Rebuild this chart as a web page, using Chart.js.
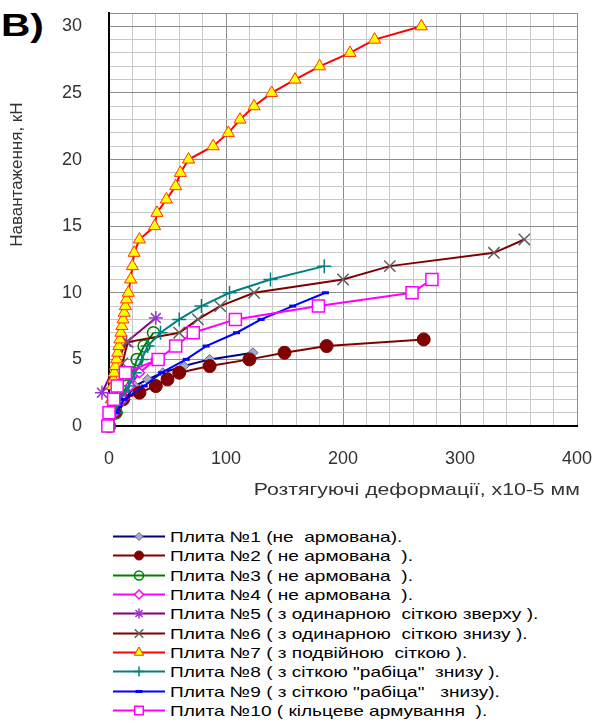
<!DOCTYPE html>
<html lang="uk">
<head>
<meta charset="utf-8">
<title>Навантаження – розтягуючі деформації</title>
<script src="https://cdn.jsdelivr.net/npm/chart.js@4.4.1/dist/chart.umd.min.js"></script>
<style>
  html, body { margin: 0; padding: 0; background: #fff; }
  body { width: 593px; height: 724px; position: relative; overflow: hidden; font-family: 'Liberation Sans', Arial, sans-serif; }
  #chart { position: absolute; left: 0; top: 0; }
  #panel-label { position: absolute; left: 1px; top: 9px; font-size: 32px; font-weight: bold; line-height: 32px;
    transform: scaleX(1.27); transform-origin: left top; }
  #x-title { position: absolute; right: 13px; top: 480px; font-size: 17px; line-height: 20px; color: #333; white-space: pre;
    transform: scaleX(1.25); transform-origin: right top; }
  #legend { position: absolute; left: 111px; top: 527px; }
  .legend-row { height: 19.3px; display: flex; align-items: center; }
  .legend-row canvas { width: 56px; height: 19px; margin-right: 3px; flex: none; }
  .legend-row span { display: inline-block; font-size: 15px; white-space: pre; color: #000;
    transform: scaleX(1.27); transform-origin: left center; }
</style>
</head>
<body>
<div id="panel-label">В)</div>
<canvas id="chart" width="593" height="510"></canvas>
<div id="x-title"></div>
<div id="legend"></div>
<script>
// legend texts
const plateLabels = [
  'Плита №1 (не  армована).',
  'Плита №2 ( не армована  ).',
  'Плита №3 ( не армована  ).',
  'Плита №4 ( не армована  ).',
  'Плита №5 ( з одинарною  сіткою зверху ).',
  'Плита №6 ( з одинарною  сіткою знизу ).',
  'Плита №7 ( з подвійною  сіткою ).',
  'Плита №8 ( з сіткою "рабіца"  знизу ).',
  'Плита №9 ( з сіткою "рабіца"   знизу).',
  'Плита №10 ( кільцеве армування  ).'
];

// strain (x10-5 mm) and load (kN)
const plate1X = [0, 8, 14, 22, 33, 46, 64, 86, 123];
const plate1Y = [0, 1, 2, 3, 3.5, 4, 4.5, 5, 5.5];

const plate2X = [0, 5, 12, 26, 40, 50, 60, 86, 120, 150, 186, 269];
const plate2Y = [0, 1, 2, 2.5, 3, 3.5, 4, 4.5, 5, 5.5, 6, 6.5];

const plate3X = [0, 6, 10, 15, 20, 24, 30, 38];
const plate3Y = [0, 1, 2, 3, 4, 5, 6, 7];

const plate4X = [0, 5, 12, 18, 26, 40];
const plate4Y = [0, 1, 2, 3, 4, 5];

const plate5X = [-6, 15, 40];
const plate5Y = [2.5, 6.3, 8.1];

const plate6X = [0, 8, 11.5, 16, 60, 76, 95, 124, 200, 240, 329, 355];
const plate6Y = [0, 3, 4.7, 6.3, 7, 8, 9, 10, 11, 12, 13, 14];

const plate7X = [0, 2, 3, 3.8, 4.5, 5.5, 6.5, 7.5, 8.5, 9.3, 10.2, 11, 12, 13, 14, 15, 16.5,
  18.5, 20, 21.5, 26, 39, 41, 49, 57, 61, 68, 89, 102, 112, 124, 139, 159, 180, 206, 227, 267];
const plate7Y = [0, 2, 3, 3.5, 4, 4.5, 5, 5.5, 6, 6.5, 7, 7.5, 8, 8.5, 9, 9.5, 10,
  11, 12, 13, 14, 15, 16, 17, 18, 19, 20, 21, 22, 23, 24, 25, 26, 27, 28, 29, 30];

const plate8X = [0, 5, 10, 17, 22, 28, 33, 44, 60, 79, 103, 138, 184];
const plate8Y = [0, 1, 2, 3, 4, 5, 6, 7, 8, 9, 10, 11, 12];

const plate9X = [0, 6, 13, 30, 45, 66, 83, 109, 130, 157, 185];
const plate9Y = [0, 1, 2, 3, 4, 5, 6, 7, 8, 9, 10];

const plate10X = [-1, 0, 4, 7, 14, 42, 57, 72, 108, 179, 259, 276];
const plate10Y = [0, 1, 2, 3, 4, 5, 6, 7, 8, 9, 10, 11];

const xTitle = 'Розтягуючі деформації, х10-5 мм';
const yTitle = 'Навантаження, кН';

function toPoints(xs, ys) {
  return xs.map((x, i) => ({ x: x, y: ys[i] }));
}

// line colour, marker style, marker fill, marker border, marker size, marker border width
const styles = [
  { line: '#000080', style: 'rectRot',  fill: '#a8a8c8', edge: '#6060a0', r: 5,   bw: 1 },
  { line: '#800000', style: 'circle',   fill: '#800000', edge: '#800000', r: 6.5, bw: 1 },
  { line: '#008000', style: 'circle',   fill: 'rgba(0,0,0,0)', edge: '#008000', r: 6, bw: 1.5 },
  { line: '#ff00ff', style: 'rectRot',  fill: '#ffffff', edge: '#ff00ff', r: 5,   bw: 1.5 },
  { line: '#800080', style: 'star',     fill: '#9933cc', edge: '#9933cc', r: 7,   bw: 1.5 },
  { line: '#800000', style: 'crossRot', fill: '#606060', edge: '#606060', r: 8,   bw: 1.5 },
  { line: '#ff0000', style: 'triangle', fill: '#ffff00', edge: '#ff3300', r: 7,   bw: 1 },
  { line: '#008080', style: 'cross',    fill: '#008080', edge: '#008080', r: 7,   bw: 1.5 },
  { line: '#0000ff', style: 'line',     fill: '#0000ff', edge: '#0000ff', r: 3.5, bw: 3 },
  { line: '#ff00ff', style: 'rect',     fill: '#ffffff', edge: '#ff00ff', r: 8.5, bw: 1.5 }
];

const seriesData = [
  toPoints(plate1X, plate1Y), toPoints(plate2X, plate2Y), toPoints(plate3X, plate3Y),
  toPoints(plate4X, plate4Y), toPoints(plate5X, plate5Y), toPoints(plate6X, plate6Y),
  toPoints(plate7X, plate7Y), toPoints(plate8X, plate8Y), toPoints(plate9X, plate9Y),
  toPoints(plate10X, plate10Y)
];

const datasets = seriesData.map((pts, i) => {
  const s = styles[i];
  return {
    label: plateLabels[i],
    data: pts,
    showLine: true,
    borderColor: s.line,
    borderWidth: 2,
    pointStyle: s.style,
    pointRadius: s.r,
    pointBackgroundColor: s.fill,
    pointBorderColor: s.edge,
    pointBorderWidth: s.bw,
    clip: false,
    order: plateLabels.length - i   // later plates drawn on top, like the original
  };
});

const fontFamily = "'Liberation Sans', Arial, sans-serif";

// chart.js adds tick padding to the label overflow; the plot here runs right to the edges
function noOverflow(s) {
  s.paddingTop = 0;
  s.paddingBottom = 0;
  s.paddingLeft = 0;
  s.paddingRight = 0;
}

new Chart(document.getElementById('chart'), {
  type: 'scatter',
  data: { datasets },
  options: {
    responsive: false,
    animation: false,
    layout: { padding: { top: 13, right: 16, left: 0, bottom: 0 } },
    plugins: { legend: { display: false }, tooltip: { enabled: false } },
    scales: {
      x: {
        type: 'linear',
        min: 0,
        max: 400,
        afterFit: s => { s.height = 84; noOverflow(s); },
        ticks: {
          stepSize: 20,
          autoSkip: false,
          maxRotation: 0,
          padding: 22,
          color: '#333',
          font: { family: fontFamily, size: 18 },
          callback: v => (v % 100 === 0 ? v : '')
        },
        grid: {
          drawTicks: false,
          color: ctx => (ctx.tick && ctx.tick.value % 100 === 0 ? '#8c8c8c' : '#c8c8c8'),
          lineWidth: 1
        },
        border: { color: '#000', width: 2 }
      },
      y: {
        min: 0,
        max: 31,
        afterFit: s => { s.width = 109; noOverflow(s); },
        ticks: {
          stepSize: 1,
          autoSkip: false,
          padding: 27,
          color: '#333',
          font: { family: fontFamily, size: 18 },
          callback: v => (v % 5 === 0 ? v : '')
        },
        grid: {
          drawTicks: false,
          color: ctx => (ctx.tick && (ctx.tick.value % 5 === 0 || ctx.tick.value === 31) ? '#8c8c8c' : '#c8c8c8'),
          lineWidth: 1
        },
        border: { color: '#000', width: 2 },
        title: {
          display: true,
          // leading spaces push the title up, as in the original
          text: ' '.repeat(19) + yTitle,
          color: '#333',
          font: { family: fontFamily, size: 17 },
          padding: { top: 7, bottom: 0 }
        }
      }
    }
  }
});

document.getElementById('x-title').textContent = xTitle;

// legend: one row per plate, sample drawn with the library's own point renderer
const legend = document.getElementById('legend');
const legendRadius = [4, 4.5, 4.5, 4.5, 5, 6, 5.5, 5, 3.5, 6];
plateLabels.forEach((text, i) => {
  const s = styles[i];
  const row = document.createElement('div');
  row.className = 'legend-row';
  const c = document.createElement('canvas');
  c.width = 56; c.height = 19;
  const ctx = c.getContext('2d');
  ctx.strokeStyle = s.line;
  ctx.lineWidth = 2;
  ctx.beginPath();
  ctx.moveTo(2, 9.5);
  ctx.lineTo(54, 9.5);
  ctx.stroke();
  ctx.fillStyle = s.fill;
  ctx.strokeStyle = s.edge;
  ctx.lineWidth = s.bw;
  Chart.helpers.drawPoint(ctx, { pointStyle: s.style, radius: legendRadius[i], rotation: 0, borderWidth: s.bw }, 28, 9.5);
  const span = document.createElement('span');
  span.textContent = text;
  row.appendChild(c);
  row.appendChild(span);
  legend.appendChild(row);
});
</script>
</body>
</html>
